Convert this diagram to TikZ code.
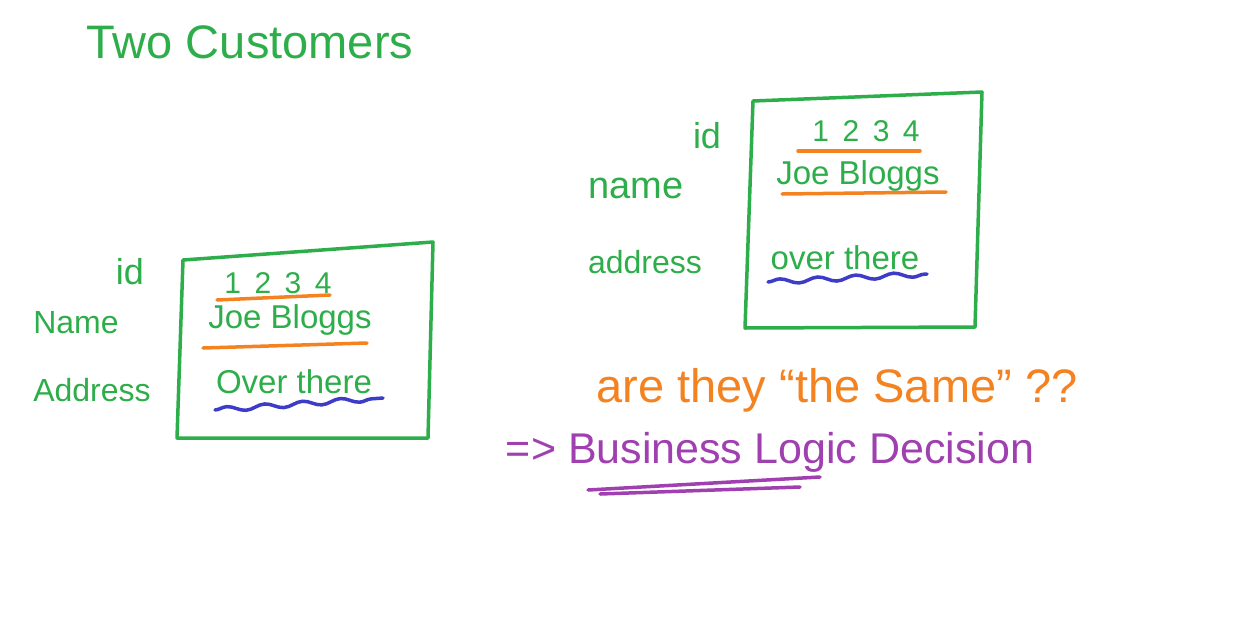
\documentclass[tikz,border=0pt]{standalone}
\usepackage{fontspec}
\setmainfont{Liberation Sans}
\usetikzlibrary{decorations.pathmorphing}
\definecolor{penGreen}{HTML}{2EAE4A}
\definecolor{penOrange}{HTML}{F58220}
\definecolor{penBlue}{HTML}{3C3CC8}
\definecolor{penPurple}{HTML}{A040B0}
\begin{document}
\begin{tikzpicture}[x=1pt,y=-1pt,
	ink/.style={text=penGreen,inner sep=0pt},
	tag/.style={ink,font=\fontsize{32}{34}\selectfont},
	field/.style={ink,font=\fontsize{33}{35}\selectfont},
	digits/.style={ink,font=\fontsize{30}{32}\selectfont\addfontfeature{LetterSpace=45}},
	frame/.style={draw=penGreen,line width=3.5pt,line join=round},
	underln/.style={draw=penOrange,line width=3.5pt,line cap=round},
	wavy/.style={draw=penBlue,line width=3.5pt,line cap=round,decorate,decoration={snake,amplitude=2.5pt,segment length=38pt}},
	stroke/.style={draw=penPurple,line width=3.5pt,line cap=round}]
	\useasboundingbox[fill=white](0,0)rectangle(1246,621);
	% title
	\node[ink,font=\fontsize{47}{49}\selectfont](title)at(250,42){Two Customers};
	% first customer
	\draw[frame](183,260)--(433,242)--(428,438)--(177,438)--cycle;
	\node[tag,font=\fontsize{36}{38}\selectfont](idA)at(130,272){id};
	\node[tag](nameA)at(76,323){Name};
	\node[tag](addrA)at(92,390){Address};
	\node[digits](numA)at(278,283){1234};
	\node[field](custA)at(290,320){Joe Bloggs};
	\node[field](placeA)at(294,382){Over there};
	\draw[underln](217,300)--(330,295);
	\draw[underln](203,348)--(367,343);
	\draw[wavy](215,410)--(383,398);
	% second customer
	\draw[frame](753,101)--(982,92)--(975,327)--(745,328)--cycle;
	\node[tag,font=\fontsize{36}{38}\selectfont](idB)at(707,136){id};
	\node[tag,font=\fontsize{38}{40}\selectfont](nameB)at(636,188){name};
	\node[tag](addrB)at(645,262){address};
	\node[digits](numB)at(866,131){1234};
	\node[field](custB)at(858,176){Joe Bloggs};
	\node[field](placeB)at(845,258){over there};
	\draw[underln](798,151)--(920,151);
	\draw[underln](782,194)--(946,192);
	\draw[wavy](768,282)--(927,274);
	% question
	\node[text=penOrange,inner sep=0pt,font=\fontsize{47}{49}\selectfont](ask)at(837,390){are they ``the Same'' ??};
	\node[text=penPurple,inner sep=0pt,font=\fontsize{43}{45}\selectfont](verdict)at(770,452){=> Business Logic Decision};
	\draw[stroke](588,490)--(820,477);
	\draw[stroke](600,494)--(800,487);
\end{tikzpicture}
\end{document}
